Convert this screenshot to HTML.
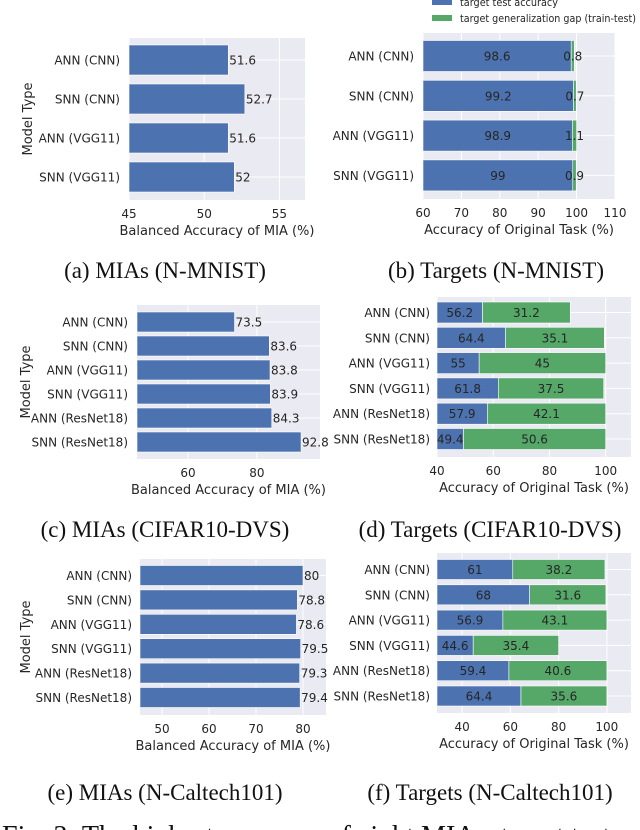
<!DOCTYPE html>
<html><head><meta charset="utf-8">
<style>
html,body{margin:0;padding:0;background:#fff;width:640px;height:830px;overflow:hidden}
svg{display:block}
</style></head>
<body>
<svg id="fig" width="640" height="830" viewBox="0 0 640 830" xmlns="http://www.w3.org/2000/svg" font-family="'DejaVu Sans', 'Liberation Sans', sans-serif"></svg>
<script>
// ---- data ----
const catsMNIST = ["ANN (CNN)","SNN (CNN)","ANN (VGG11)","SNN (VGG11)"];
const cats6 = ["ANN (CNN)","SNN (CNN)","ANN (VGG11)","SNN (VGG11)","ANN (ResNet18)","SNN (ResNet18)"];
const miaMNIST = [51.6,52.7,51.6,52];
const accMNIST = [98.6,99.2,98.9,99];
const gapMNIST = [0.8,0.7,1.1,0.9];
const miaCIFAR = [73.5,83.6,83.8,83.9,84.3,92.8];
const accCIFAR = [56.2,64.4,55,61.8,57.9,49.4];
const gapCIFAR = [31.2,35.1,45,37.5,42.1,50.6];
const miaCal = [80,78.8,78.6,79.5,79.3,79.4];
const accCal = [61,68,56.9,44.6,59.4,64.4];
const gapCal = [38.2,31.6,43.1,35.4,40.6,35.6];
const ticksA = [45,50,55];
const ticksB = [60,70,80,90,100,110];
const ticksC = [60,80];
const ticksD = [40,60,80,100];
const ticksE = [50,60,70,80];
const ticksF = [40,60,80,100];

const NS="http://www.w3.org/2000/svg";
const svg=document.getElementById('fig');
const BLUE="#4C72B0", GREEN="#55A868", BG="#EAEAF2", TXT="#262626";
const FS=12;
function mk(tag,attrs,parent){const e=document.createElementNS(NS,tag);for(const k in attrs)e.setAttribute(k,attrs[k]);(parent||svg).appendChild(e);return e;}
function txt(s,attrs,parent){const e=mk('text',attrs,parent);e.textContent=s;return e;}

function panel(cfg){
  const g=mk('g',{});
  
  
  const x=v=>cfg.x0+(v-cfg.d0)/(cfg.d1-cfg.d0)*(cfg.x1-cfg.x0);
  const yc=i=>cfg.c0+i*cfg.pitch;
  const bg=mk('rect',{x:cfg.x0,y:cfg.y0,width:cfg.x1-cfg.x0,height:cfg.y1-cfg.y0,fill:BG},g);
  
  
  cfg.ticks.forEach(t=>{
    const l=mk('line',{x1:x(t),x2:x(t),y1:cfg.y0,y2:cfg.y1,stroke:'#fff','stroke-width':1},g);
    
    
    const tl=txt(String(t),{x:x(t),y:cfg.y1+18,'text-anchor':'middle','font-size':FS,fill:TXT},g);
    
    
  });
  cfg.cats.forEach((c,i)=>{
    const l=mk('line',{x1:cfg.x0,x2:cfg.x1,y1:yc(i),y2:yc(i),stroke:'#fff','stroke-width':1},g);
    
    
    const cl=txt(c,{x:cfg.labX,y:yc(i)+4.5,'text-anchor':'end','font-size':FS,fill:TXT},g);
    
    
  });
  const h=cfg.barH;
  cfg.a.forEach((v,i)=>{
    const b=mk('rect',{x:x(cfg.d0),y:yc(i)-h/2,width:x(v)-x(cfg.d0),height:h,fill:BLUE,stroke:'#fff','stroke-width':0.6},g);
    
    
    if(cfg.b){
      const gv=cfg.b[i];
      const gb=mk('rect',{x:x(v),y:yc(i)-h/2,width:x(v+gv)-x(v),height:h,fill:GREEN,stroke:'#fff','stroke-width':0.6},g);
      
      
      const t1=txt(String(v),{x:(x(cfg.d0)+x(v))/2,y:yc(i)+4.5,'text-anchor':'middle','font-size':FS,fill:TXT},g);
      
      
      const t2=txt(String(gv),{x:(x(v)+x(v+gv))/2,y:yc(i)+4.5,'text-anchor':'middle','font-size':FS,fill:TXT},g);
      
      
    } else {
      const t1=txt(String(v),{x:x(v)+1,y:yc(i)+4.5,'text-anchor':'start','font-size':FS,fill:TXT},g);
      
      
    }
  });
  const xl=txt(cfg.xlabel,{x:(cfg.x0+cfg.x1)/2,y:cfg.y1+35,'text-anchor':'middle','font-size':13,fill:TXT},g);
  
  
  if(cfg.ylabX){
    const yy=(cfg.y0+cfg.y1)/2;
    const yl=txt('Model Type',{x:cfg.ylabX,y:yy,'text-anchor':'middle','font-size':13,fill:TXT,transform:`rotate(-90 ${cfg.ylabX} ${yy})`},g);
    
    
  }
  const cap=txt(cfg.caption,{x:cfg.capX,y:cfg.capY,'text-anchor':'middle','font-size':23,fill:'#111','font-family':"'Liberation Serif', serif"},g);
  
  
}

const MIAX="Balanced Accuracy of MIA (%)", ACCX="Accuracy of Original Task (%)";
panel({name:'panel-a-mia-nmnist',cats:catsMNIST,a:miaMNIST,ticks:ticksA,d0:45,d1:56.7,x0:129,x1:305,y0:38,y1:200,c0:60,pitch:39,barH:30,labX:120,ylabX:32,xlabel:MIAX,caption:'(a) MIAs (N-MNIST)',capX:165,capY:278});
panel({name:'panel-b-targets-nmnist',cats:catsMNIST,a:accMNIST,b:gapMNIST,ticks:ticksB,d0:60,d1:110,x0:423,x1:615,y0:33,y1:199,c0:56,pitch:39.8,barH:31,labX:414,xlabel:ACCX,caption:'(b) Targets (N-MNIST)',capX:496,capY:278});
panel({name:'panel-c-mia-cifar10dvs',cats:cats6,a:miaCIFAR,ticks:ticksC,d0:45.2,d1:98.3,x0:137,x1:320,y0:305,y1:459,c0:322,pitch:24,barH:20,labX:128,ylabX:30,xlabel:MIAX,caption:'(c) MIAs (CIFAR10-DVS)',capX:165,capY:537});
panel({name:'panel-d-targets-cifar10dvs',cats:cats6,a:accCIFAR,b:gapCIFAR,ticks:ticksD,d0:40,d1:109,x0:437,x1:631,y0:297,y1:457,c0:312.5,pitch:25.3,barH:21,labX:430,xlabel:ACCX,caption:'(d) Targets (CIFAR10-DVS)',capX:490,capY:537});
panel({name:'panel-e-mia-ncaltech101',cats:cats6,a:miaCal,ticks:ticksE,d0:45.3,d1:84.9,x0:140,x1:326,y0:559,y1:715,c0:575.5,pitch:24.4,barH:20,labX:132,ylabX:30,xlabel:MIAX,caption:'(e) MIAs (N-Caltech101)',capX:165,capY:800});
panel({name:'panel-f-targets-ncaltech101',cats:cats6,a:accCal,b:gapCal,ticks:ticksF,d0:29.6,d1:110,x0:437,x1:631,y0:553,y1:713,c0:569.5,pitch:25.3,barH:20,labX:430,xlabel:ACCX,caption:'(f) Targets (N-Caltech101)',capX:490,capY:800});

// legend for panel b
const lg=mk('g',{});


const s1=mk('rect',{x:432,y:-2,width:20,height:7,fill:BLUE},lg);


const l1=txt('target test accuracy',{x:460,y:6,'font-size':11,fill:TXT,textLength:98,lengthAdjust:'spacingAndGlyphs'},lg);


const s2=mk('rect',{x:432,y:15,width:20,height:6,fill:GREEN},lg);


const l2=txt('target generalization gap (train-test)',{x:460,y:22,'font-size':11,fill:TXT,textLength:176,lengthAdjust:'spacingAndGlyphs'},lg);



const fc=txt('Fig. 3: The highest accuracy of eight MIAs, target test ac',{x:2,y:845,'font-size':28,fill:'#111','font-family':"'Liberation Serif', serif",textLength:640,lengthAdjust:'spacingAndGlyphs'});


</script>
</body></html>
